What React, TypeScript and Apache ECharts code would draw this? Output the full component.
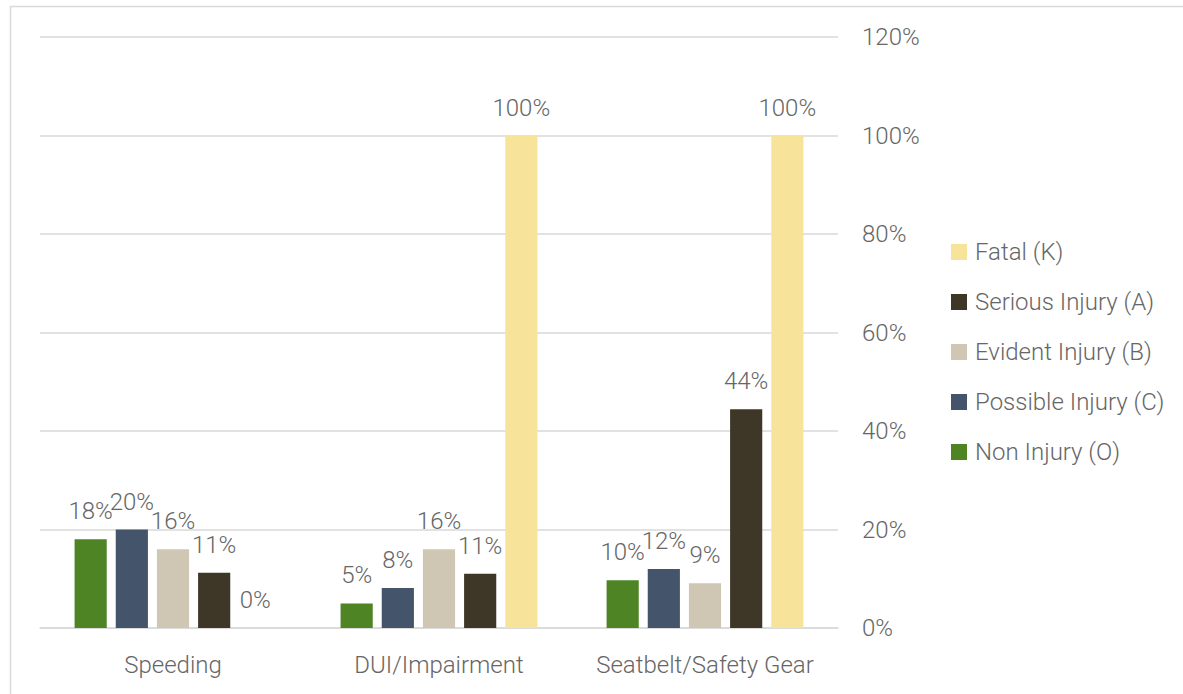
import React, { useEffect, useRef } from "react";
import * as echarts from "echarts";

const categories = ["Speeding", "DUI/Impairment", "Seatbelt/Safety Gear"];
const seriesNames = ["Non Injury (O)", "Possible Injury (C)", "Evident Injury (B)", "Serious Injury (A)", "Fatal (K)"];
const nonInjury = [18, 5, 9.7];
const possibleInjury = [20, 8.1, 12];
const evidentInjury = [16, 16, 9.1];
const seriousInjury = [11.2, 11, 44.4];
const fatal = [0, 100, 100];
const colors = ["#4e8424", "#44546a", "#cfc7b3", "#3e3728", "#f8e39b"];
const yTicks = [0, 20, 40, 60, 80, 100, 120];

const FONT = "Roboto";
const TXT = "#666666";
const FS = 24;

export default function App() {
  const ref = useRef<HTMLDivElement>(null);
  useEffect(() => {
    if (!ref.current) return;
    const chart = echarts.init(ref.current, undefined, { renderer: "svg" });
    const data = [nonInjury, possibleInjury, evidentInjury, seriousInjury, fatal];
    chart.setOption({
      animation: false,
      textStyle: { fontFamily: FONT, fontWeight: 300, color: TXT },
      graphic: [
        { type: "line", shape: { x1: 10, y1: 6.5, x2: 1183, y2: 6.5 }, style: { stroke: "#d9d9d9", lineWidth: 1.5 } },
        { type: "line", shape: { x1: 10.5, y1: 6, x2: 10.5, y2: 694 }, style: { stroke: "#d9d9d9", lineWidth: 1.5 } },
      ],
      grid: { left: 40, right: 345, top: 37, bottom: 66, containLabel: false },
      legend: {
        orient: "vertical",
        left: 946,
        top: 235,
        itemWidth: 16,
        itemHeight: 16,
        itemGap: 26,
        data: seriesNames.slice().reverse(),
        textStyle: { fontFamily: FONT, fontWeight: 300, fontSize: FS, color: TXT, padding: [0, 0, 0, 3] },
        icon: "rect",
      },
      xAxis: {
        type: "category",
        data: categories,
        axisLine: { show: true, lineStyle: { color: "#d9d9d9", width: 1.5 } },
        axisTick: { show: false },
        axisLabel: { interval: 0, hideOverlap: false, fontFamily: FONT, fontWeight: 300, fontSize: FS, color: TXT, margin: 25 },
      },
      yAxis: {
        type: "value",
        position: "right",
        min: 0,
        max: 120,
        interval: 20,
        axisLine: { show: false },
        axisTick: { show: false },
        splitLine: { lineStyle: { color: "#d9d9d9", width: 1.5 } },
        axisLabel: {
          fontFamily: FONT,
          fontWeight: 300,
          fontSize: FS,
          color: TXT,
          margin: 24,
          formatter: (v: number) => (yTicks.includes(v) ? v + "%" : ""),
        },
      },
      series: seriesNames.map((name, i) => ({
        name,
        type: "bar",
        data: data[i],
        barGap: "28%",
        barCategoryGap: "26%",
        itemStyle: { color: colors[i] },
        label: {
          show: true,
          position: "top",
          distance: 16,
          fontFamily: FONT,
          fontWeight: 300,
          fontSize: FS,
          color: TXT,
          formatter: (p: any) => Math.round(p.value) + "%",
        },
      })),
    });
    return () => chart.dispose();
  }, []);
  return (
    <div style={{ position: "fixed", left: 0, top: 0, width: 1183, height: 694, background: "#fff" }}>
      <div ref={ref} style={{ width: 1183, height: 694 }} />
    </div>
  );
}
